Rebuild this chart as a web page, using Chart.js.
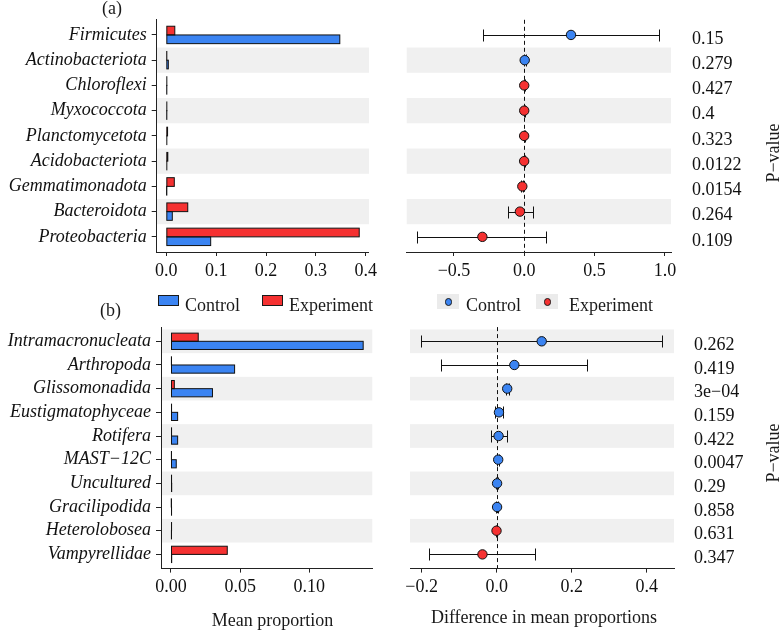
<!DOCTYPE html>
<html><head><meta charset="utf-8">
<script src="https://cdn.jsdelivr.net/npm/chart.js@4"></script>
<style>
html,body{margin:0;padding:0;background:#fff;}
#wrap{position:relative;width:780px;height:632px;overflow:hidden;font-family:"Liberation Serif","Times New Roman",serif;color:#1a1a1a;}
canvas{position:absolute;left:0;}
.t{position:absolute;font-size:18px;line-height:18px;white-space:nowrap;}
.c{transform:translateX(-50%);}
.rot{transform:translate(-50%,-50%) rotate(-90deg);}
.sw{position:absolute;box-sizing:border-box;border:1px solid #1a1a1a;}
.key{position:absolute;background:#EBEBEB;}
.dot{position:absolute;box-sizing:border-box;border:1px solid #1a1a1a;border-radius:50%;}
</style></head><body>
<div id="wrap">
<canvas id="aBar" width="780" height="300" style="top:0"></canvas>
<canvas id="aDiff" width="780" height="300" style="top:0"></canvas>
<canvas id="bBar" width="780" height="332" style="top:300px"></canvas>
<canvas id="bDiff" width="780" height="332" style="top:300px"></canvas>

<div class="t" style="left:102px;top:-1px">(a)</div>
<div class="t" style="left:100px;top:301px">(b)</div>

<div class="sw" style="left:158px;top:295px;width:21px;height:11px;background:#3B84F2"></div>
<div class="t" style="left:185px;top:295.5px">Control</div>
<div class="sw" style="left:262px;top:295px;width:21px;height:11px;background:#F53131"></div>
<div class="t" style="left:289px;top:295.5px">Experiment</div>

<div class="key" style="left:437px;top:294px;width:22px;height:15px"></div>
<div class="dot" style="left:444.5px;top:298px;width:7.5px;height:7.5px;background:#3B84F2"></div>
<div class="t" style="left:466px;top:295.5px">Control</div>
<div class="key" style="left:536px;top:294px;width:22px;height:15px"></div>
<div class="dot" style="left:543.5px;top:298px;width:7.5px;height:7.5px;background:#F53131"></div>
<div class="t" style="left:569px;top:295.5px">Experiment</div>

<div class="t rot" style="left:773px;top:152.5px">P−value</div>
<div class="t rot" style="left:773px;top:452.5px">P−value</div>

<div class="t c" style="left:272.5px;top:611px">Mean proportion</div>
<div class="t c" style="left:544px;top:608px">Difference in mean proportions</div>
</div>
<script>
const FONT = '"Liberation Serif","Times New Roman",serif';
const BLUE = '#3B84F2', RED = '#F53131', INK = '#111111', AXIS = '#222222', BAND = '#F0F0F0';

// ---------- Panel (a) ----------
const aCategories = ['Firmicutes','Actinobacteriota','Chloroflexi','Myxococcota','Planctomycetota','Acidobacteriota','Gemmatimonadota','Bacteroidota','Proteobacteria'];
const aControl    = [0.348, 0.004, 0.0008, 0.0008, 0.001, 0.001, 0.0005, 0.012, 0.089];
const aExperiment = [0.017, 0.0008, 0.001, 0.001, 0.0025, 0.003, 0.016, 0.043, 0.387];
const aDiff       = [0.332, 0.003, -0.0005, -0.0005, -0.001, -0.001, -0.014, -0.031, -0.298];
const aLow        = [-0.296, -0.003, -0.003, -0.003, -0.004, -0.004, -0.020, -0.114, -0.761];
const aHigh       = [0.956, 0.009, 0.002, 0.002, 0.002, 0.002, -0.008, 0.060, 0.154];
const aPValues    = ['0.15','0.279','0.427','0.4','0.323','0.0122','0.0154','0.264','0.109'];
const aBarTicks   = [0, 0.1, 0.2, 0.3, 0.4];
const aDiffTicks  = [-0.5, 0, 0.5, 1.0];

// ---------- Panel (b) ----------
const bCategories = ['Intramacronucleata','Arthropoda','Glissomonadida','Eustigmatophyceae','Rotifera','MAST\u221212C','Uncultured','Gracilipodida','Heterolobosea','Vampyrellidae'];
const bControl    = [0.139, 0.046, 0.030, 0.0048, 0.0048, 0.0038, 0.0005, 0.0004, 0.0003, 0.0005];
const bExperiment = [0.0197, 0.0003, 0.0024, 0.0004, 0.0004, 0.0003, 0.0004, 0.0002, 0.0004, 0.0407];
const bDiff       = [0.120, 0.047, 0.028, 0.006, 0.005, 0.004, 0.001, 0.001, -0.0005, -0.038];
const bLow        = [-0.202, -0.149, 0.024, -0.004, -0.016, 0.001, -0.001, -0.001, -0.002, -0.180];
const bHigh       = [0.442, 0.242, 0.032, 0.016, 0.027, 0.007, 0.003, 0.003, 0.001, 0.103];
const bPValues    = ['0.262','0.419','3e\u221204','0.159','0.422','0.0047','0.29','0.858','0.631','0.347'];
const bBarTicks   = [0, 0.05, 0.10];
const bDiffTicks  = [-0.2, 0, 0.2, 0.4];

function fmt(v, dec) { return (v < 0 ? '\u2212' : '') + Math.abs(v).toFixed(dec); }
const crisp = v => Math.round(v) + 0.5;

function bandPlugin(n, start) {
  return {
    id: 'bands',
    beforeDraw(chart) {
      const {ctx, chartArea: ca, scales: {y}} = chart;
      ctx.save(); ctx.fillStyle = BAND;
      for (let i = start; i < n; i += 2) {
        const y0 = y.getPixelForValue(i - 0.5), y1 = y.getPixelForValue(i + 0.5);
        ctx.fillRect(ca.left, Math.min(y0, y1), ca.right - ca.left, Math.abs(y1 - y0));
      }
      ctx.restore();
    }
  };
}

// outline bars like ggplot (stroke centred on the edges, visible even for near-zero bars)
const outlinePlugin = {
  id: 'barOutline',
  afterDatasetsDraw(chart) {
    const ctx = chart.ctx;
    ctx.save(); ctx.strokeStyle = INK; ctx.lineWidth = 1;
    chart.data.datasets.forEach((ds, di) => {
      chart.getDatasetMeta(di).data.forEach(bar => {
        const {x, y, base, height} = bar.getProps(['x', 'y', 'base', 'height'], true);
        const l = Math.min(x, base), w = Math.abs(x - base);
        ctx.strokeRect(l, y - height / 2, w, height);
      });
    });
    ctx.restore();
  }
};

function diffPlugin(lo, hi, pvals, gap) {
  return {
    id: 'diffMarks',
    beforeDatasetsDraw(chart) {
      const {ctx, chartArea: ca, scales: {x, y}} = chart;
      ctx.save();
      const x0 = crisp(x.getPixelForValue(0));
      ctx.strokeStyle = INK; ctx.lineWidth = 1; ctx.setLineDash([4, 3]);
      ctx.beginPath(); ctx.moveTo(x0, ca.top); ctx.lineTo(x0, ca.bottom); ctx.stroke();
      ctx.setLineDash([]); ctx.lineWidth = 1;
      lo.forEach((l, i) => {
        const py = crisp(y.getPixelForValue(i)), xl = crisp(x.getPixelForValue(l)), xh = crisp(x.getPixelForValue(hi[i]));
        ctx.beginPath();
        ctx.moveTo(xl, py); ctx.lineTo(xh, py);
        ctx.moveTo(xl, py - 6); ctx.lineTo(xl, py + 6);
        ctx.moveTo(xh, py - 6); ctx.lineTo(xh, py + 6);
        ctx.stroke();
      });
      ctx.restore();
    },
    afterDraw(chart) {
      const {ctx, chartArea: ca, scales: {y}} = chart;
      ctx.save();
      ctx.font = '18px ' + FONT; ctx.fillStyle = INK; ctx.textBaseline = 'middle'; ctx.textAlign = 'left';
      pvals.forEach((p, i) => ctx.fillText(p, ca.right + gap, y.getPixelForValue(i) + 4));
      ctx.restore();
    }
  };
}

function xScale(min, max, ticks, dec, h) {
  return {
    type: 'linear', min, max, bounds: 'data', offset: false,
    afterBuildTicks: s => { s.ticks = ticks.map(v => ({value: v})); },
    afterFit: s => { s.height = h; },
    ticks: {callback: v => fmt(v, dec), font: {family: FONT, size: 18}, color: INK, padding: 4, maxRotation: 0, autoSkip: false},
    grid: {offset: false, drawOnChartArea: false, drawTicks: true, tickLength: 4, color: AXIS, lineWidth: 1},
    border: {display: true, color: AXIS, width: 1}
  };
}

function barChart(id, cats, ctrl, expt, ticks, dec, b, bandStart) {
  return new Chart(document.getElementById(id), {
    type: 'bar',
    data: {datasets: [
      {label: 'Experiment', data: expt.map((v, i) => ({x: v, y: i})), backgroundColor: RED, borderWidth: 0, categoryPercentage: 0.69, barPercentage: 1},
      {label: 'Control', data: ctrl.map((v, i) => ({x: v, y: i})), backgroundColor: BLUE, borderWidth: 0, categoryPercentage: 0.69, barPercentage: 1}
    ]},
    options: {
      indexAxis: 'y', responsive: false, animation: false, devicePixelRatio: 1,
      layout: {padding: {left: 0, right: b.padR, top: b.padT, bottom: 0}},
      plugins: {legend: {display: false}, tooltip: {enabled: false}},
      scales: {
        x: xScale(b.xmin, b.xmax, ticks, dec, b.axisH),
        y: {
          type: 'linear', reverse: true, min: -0.6, max: cats.length - 0.4, bounds: 'data', offset: false,
          afterBuildTicks: s => { s.ticks = cats.map((c, i) => ({value: i})); },
          afterFit: s => { s.width = b.axisW; },
          ticks: {callback: v => cats[v], font: {family: FONT, size: 18, style: 'italic'}, color: INK, padding: 5, autoSkip: false},
          grid: {offset: false, drawOnChartArea: false, drawTicks: true, tickLength: 5, color: AXIS},
          border: {display: true, color: AXIS, width: 1}
        }
      }
    },
    plugins: [bandPlugin(cats.length, bandStart), outlinePlugin]
  });
}

function diffChart(id, diff, lo, hi, pvals, ticks, dec, b, bandStart) {
  const n = diff.length;
  return new Chart(document.getElementById(id), {
    type: 'scatter',
    data: {datasets: [{
      data: diff.map((d, i) => ({x: d, y: i})),
      pointBackgroundColor: diff.map(d => d > 0 ? BLUE : RED),
      pointBorderColor: INK, pointBorderWidth: 1, pointRadius: 4.7, showLine: false
    }]},
    options: {
      responsive: false, animation: false, devicePixelRatio: 1,
      layout: {padding: {left: b.padL, right: b.padR, top: b.padT, bottom: 0}},
      plugins: {legend: {display: false}, tooltip: {enabled: false}},
      scales: {
        x: xScale(b.xmin, b.xmax, ticks, dec, b.axisH),
        y: {type: 'linear', display: false, reverse: true, min: -0.6, max: n - 0.4, bounds: 'data', offset: false}
      }
    },
    plugins: [bandPlugin(n, bandStart), diffPlugin(lo, hi, pvals, b.gap)]
  });
}

barChart('aBar', aCategories, aControl, aExperiment, aBarTicks, 1,
  {padR: 411, padT: 19.8, axisW: 156.7, axisH: 48, xmin: -0.0193, xmax: 0.4066}, 1);
diffChart('aDiff', aDiff, aLow, aHigh, aPValues, aDiffTicks, 1,
  {padL: 406.7, padR: 109, padT: 19.8, axisH: 48, xmin: -0.836, xmax: 1.043, gap: 21}, 1);
barChart('bBar', bCategories, bControl, bExperiment, bBarTicks, 2,
  {padR: 407.7, padT: 27.1, axisW: 161, axisH: 63.4, xmin: -0.00723, xmax: 0.1456}, 0);
diffChart('bDiff', bDiff, bLow, bHigh, bPValues, bDiffTicks, 1,
  {padL: 410, padR: 106, padT: 27.1, axisH: 63.4, xmin: -0.2312, xmax: 0.4728, gap: 20}, 0);
</script>
</body></html>
